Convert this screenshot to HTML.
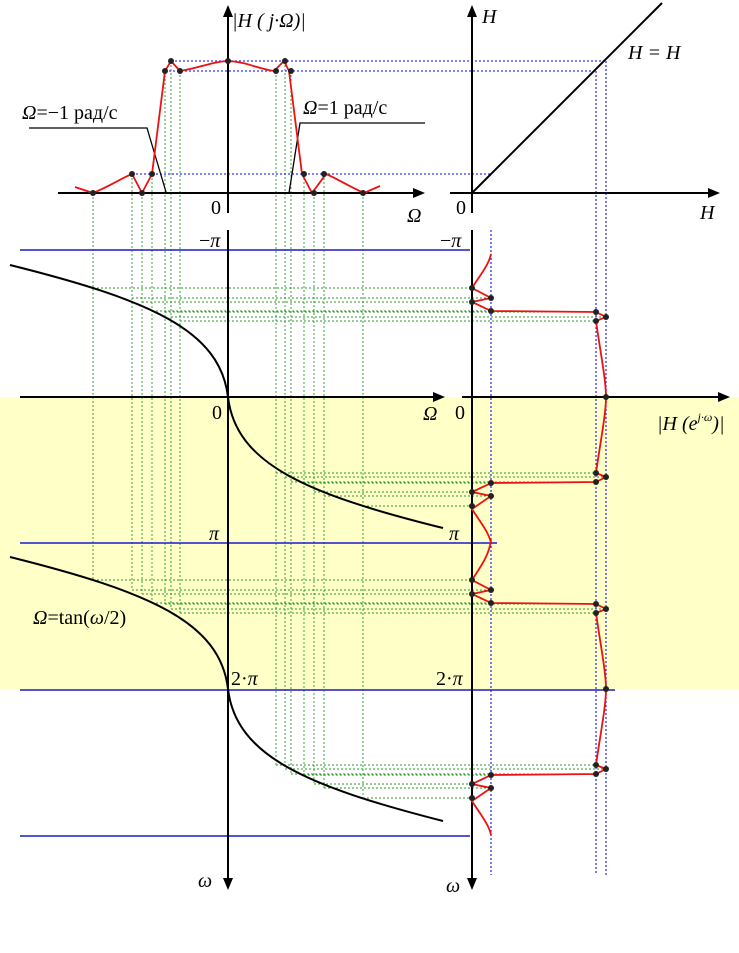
<!DOCTYPE html>
<html><head><meta charset="utf-8"><style>
html,body{margin:0;padding:0;background:#fff;width:739px;height:953px;overflow:hidden}
svg{display:block}
text{font-family:"Liberation Serif","DejaVu Serif",serif;font-size:20px;fill:#000}
.i{font-style:italic}
</style></head><body>
<svg id="s" width="739" height="953" viewBox="0 0 739 953" xmlns="http://www.w3.org/2000/svg">
<rect x="0" y="397" width="739" height="292" fill="#ffffc8"/>
<g id="green" stroke="#2a9a2a" stroke-width="0.9" stroke-dasharray="2,2" fill="none"></g>
<g stroke="#3333ff" stroke-width="1.3" stroke-dasharray="2,2" fill="none">
<line x1="171" y1="61" x2="606" y2="61"/>
<line x1="165" y1="71" x2="596" y2="71"/>
<line x1="132" y1="174" x2="491" y2="174"/>
<line x1="491" y1="230" x2="491" y2="875"/>
<line x1="596" y1="71" x2="596" y2="875"/>
<line x1="606" y1="61" x2="606" y2="875"/>
</g>
<g stroke="#1a1acc" stroke-width="1.5">
<line x1="20" y1="250" x2="470" y2="250"/>
<line x1="20" y1="543" x2="497" y2="543"/>
<line x1="20" y1="690" x2="615" y2="690"/>
<line x1="20" y1="836" x2="470" y2="836"/>
</g>
<g stroke="#000" stroke-width="2" fill="none">
<line x1="58" y1="193" x2="415" y2="193"/>
<line x1="228" y1="213" x2="228" y2="15"/>
<line x1="450" y1="193" x2="710" y2="193"/>
<line x1="472" y1="213" x2="472" y2="15"/>
<line x1="472" y1="193" x2="662" y2="3"/>
<line x1="20" y1="397" x2="435" y2="397"/>
<line x1="462" y1="397" x2="720" y2="397"/>
<line x1="228" y1="230" x2="228" y2="880"/>
<line x1="472" y1="230" x2="472" y2="880"/>
<path d="M10,265 C150,300 220,330 228,397 C236,464 306,494 443,528"/>
<path d="M10,557 C150,592 220,622 228,689 C236,756 306,786 443,821"/>
</g>
<g stroke="#000" stroke-width="1.3" fill="none">
<path d="M29,128 L147,128 L166,192"/>
<path d="M425,123 L300,123 L289,193"/>
</g>
<g fill="#000">
<path d="M425,193 l-12,-5 l0,10z"/>
<path d="M228,5 l-5,12 l10,0z"/>
<path d="M472,5 l-5,12 l10,0z"/>
<path d="M720,193 l-12,-5 l0,10z"/>
<path d="M445,397 l-12,-5 l0,10z"/>
<path d="M730,397 l-12,-5 l0,10z"/>
<path d="M228,890 l-5,-12 l10,0z"/>
<path d="M472,890 l-5,-12 l10,0z"/>
</g>
<g stroke="#ee1111" stroke-width="1.8" fill="none">
<path d="M75,187 L93,193 C110,186 122,178 132,174 L142,193 L152,174 L165,71 L171,61 L180,71 C200,68 210,62 228,61 C246,62 256,68 274,71 L284,61 L289,71 L302,174 L312,193 L326,174 C336,178 348,186 364,193 L380,186"/>
<path d="M491,254 C489,265 478,278 472,288 L491,298 L472,302 L491,311 L596,312 L606,317 L596,321 C600,350 606,380 606,397 C606,414 600,444 596,473 L606,477 L596,482 L491,483 L472,492 L491,496 L472,509 C478,519 489,532 491,543"/>
<g transform="translate(0,292)"><path d="M491,248 C489,265 478,278 472,288 L491,298 L472,302 L491,311 L596,312 L606,317 L596,321 C600,350 606,380 606,397 C606,414 600,444 596,473 L606,477 L596,482 L491,483 L472,492 L491,496 L472,509 C478,519 489,532 491,543"/></g>
</g>
<g id="dots" fill="#222"></g>
<text x="232" y="27" class="i">|H ( j·Ω)|</text>
<text x="211" y="214">0</text>
<text x="407" y="222" class="i">Ω</text>
<text x="22" y="119"><tspan class="i">Ω</tspan>=−1  рад/с</text>
<text x="303" y="114"><tspan class="i">Ω</tspan>=1  рад/с</text>
<text x="482" y="23" class="i">H</text>
<text x="628" y="59" class="i">H = H</text>
<text x="456" y="214">0</text>
<text x="700" y="219" class="i">H</text>
<text x="199" y="247">−<tspan class="i">π</tspan></text>
<text x="440" y="247">−<tspan class="i">π</tspan></text>
<text x="212" y="419">0</text>
<text x="423" y="420" class="i">Ω</text>
<text x="455" y="419">0</text>
<text x="657" y="430" class="i">|H (e<tspan font-size="12" dy="-9">j·ω</tspan><tspan dy="9">)|</tspan></text>
<text x="209" y="540" class="i">π</text>
<text x="449" y="540" class="i">π</text>
<text x="33" y="624"><tspan class="i">Ω</tspan>=tan(<tspan class="i">ω</tspan>/2)</text>
<text x="231" y="685">2·<tspan class="i">π</tspan></text>
<text x="436" y="685">2·<tspan class="i">π</tspan></text>
<text x="198" y="887" class="i">ω</text>
<text x="446" y="892" class="i">ω</text>
</svg>
<script>
var L=[[93,193,472,288],[132,174,491,298],[142,193,472,302],[152,174,491,311],[165,71,596,312],[171,61,606,317],[180,71,596,321]];
var g=document.getElementById('green'),d=document.getElementById('dots'),ns='http://www.w3.org/2000/svg';
function ln(a,b,c,e){var l=document.createElementNS(ns,'line');l.setAttribute('x1',a);l.setAttribute('y1',b);l.setAttribute('x2',c);l.setAttribute('y2',e);g.appendChild(l);}
function dt(x,y){var c=document.createElementNS(ns,'circle');c.setAttribute('cx',x);c.setAttribute('cy',y);c.setAttribute('r',3);d.appendChild(c);}
var pts=[];
L.forEach(function(p){pts.push(p);pts.push([456-p[0],p[1],p[2],794-p[3]]);});
pts.forEach(function(p){var x=p[0],ty=p[1],mx=p[2],y1=p[3],y2=y1+292;
ln(x,ty,x,y2);ln(x,y1,mx,y1);ln(x,y2,mx,y2);
dt(x,ty);dt(mx,y1);dt(mx,y2);});
dt(228,61);dt(606,397);dt(606,689);
</script>
</body></html>
